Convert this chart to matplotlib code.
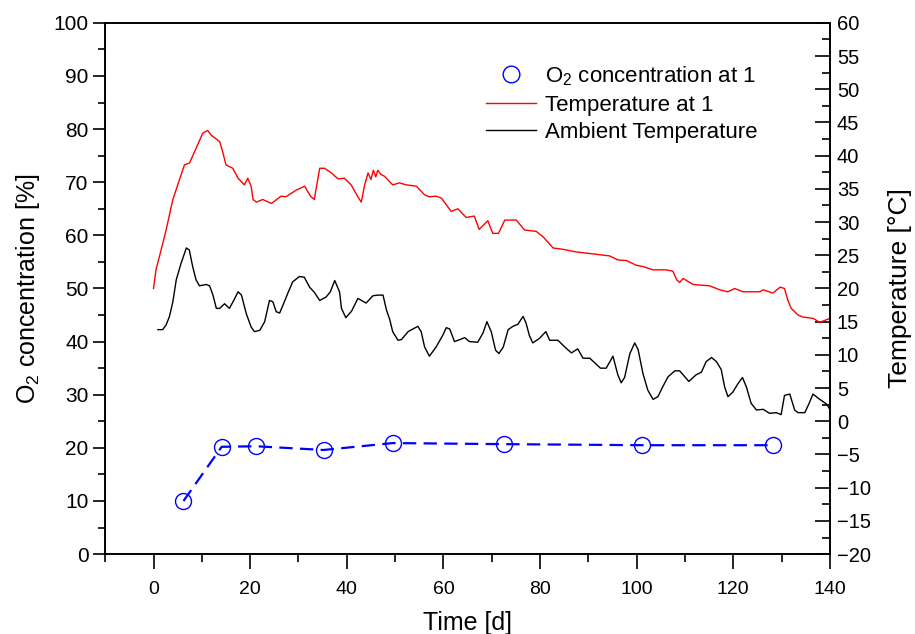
import matplotlib
matplotlib.use("Agg")
import matplotlib.pyplot as plt
from matplotlib.ticker import MultipleLocator
from matplotlib.lines import Line2D

plt.rcParams['font.family'] = ['Liberation Sans', 'DejaVu Sans']
plt.rcParams['mathtext.fontset'] = 'custom'
plt.rcParams['mathtext.rm'] = 'Liberation Sans'
plt.rcParams['mathtext.it'] = 'Liberation Sans:italic'

# O2 concentration at 1 (%)
o2_days = [6.2, 14.1, 21.3, 35.2, 49.5, 72.5, 101.2, 128.2]
o2_vals = [10.0, 20.2, 20.3, 19.6, 20.9, 20.7, 20.5, 20.5]

# Temperature at 1 (deg C)
t1_days = [0, 0.5, 1.5, 2.6, 4.0, 5.7, 6.4, 7.45, 8.8, 10.2, 11.2, 11.9, 13.7, 14.3, 15.0,
           16.4, 17.5, 18.8, 19.5, 20.2, 20.6, 21.3, 22.6, 24.4, 26.4, 27.4, 29.5, 31.3,
           31.9, 32.6, 33.3, 33.6, 34.4, 35.4, 36.8, 38.2, 39.5, 40.9, 42.3, 43.0, 43.7,
           44.4, 45.0, 45.5, 46.0, 46.4, 47.0, 47.8, 49.5, 50.9, 52.3, 54.4, 56.1, 57.1,
           58.5, 59.6, 60.9, 61.6, 63.0, 64.7, 66.4, 67.4, 69.2, 70.2, 71.4, 72.7, 75.1,
           76.8, 79.2, 80.6, 82.7, 84.7, 87.5, 91.0, 94.4, 96.1, 97.9, 99.9, 101.3, 103.4,
           106.1, 107.5, 108.3, 108.9, 109.6, 111.7, 115.1, 117.2, 118.9, 120.3, 122.0,
           125.5, 126.2, 128.2, 129.7, 130.6, 131.3, 132.0, 133.4, 134.4, 136.5, 137.9, 140.0]
t1_vals = [20.0, 22.8, 25.6, 28.8, 33.4, 37.1, 38.6, 38.9, 41.1, 43.4, 43.8, 43.1, 42.1, 40.6,
           38.6, 38.1, 36.6, 35.6, 36.6, 35.4, 33.4, 33.0, 33.4, 32.8, 33.9, 33.8, 34.8, 35.4,
           34.6, 33.8, 33.4, 34.8, 38.1, 38.1, 37.4, 36.5, 36.6, 35.6, 33.8, 33.0, 35.6,
           37.4, 36.4, 37.8, 36.8, 37.8, 37.2, 36.9, 35.6, 35.9, 35.6, 35.4, 34.1, 33.8,
           33.9, 33.6, 32.3, 31.6, 32.0, 30.7, 30.9, 28.9, 30.2, 28.3, 28.3, 30.3, 30.3,
           28.8, 28.6, 27.8, 26.1, 25.9, 25.5, 25.2, 24.9, 24.3, 24.2, 23.5, 23.3, 22.8,
           22.8, 22.6, 21.3, 20.9, 21.5, 20.6, 20.4, 19.8, 19.5, 20.0, 19.5,
           19.5, 19.8, 19.3, 20.2, 20.0, 18.2, 17.0, 16.0, 15.7, 15.5, 14.9, 15.5]

# Ambient temperature (deg C)
amb_days = [0.9, 1.9, 2.6, 3.3, 4.0, 4.7, 5.7, 6.8, 7.4, 8.1, 8.8, 9.5, 10.9, 11.6, 12.3, 13.0,
            13.7, 14.7, 15.7, 16.6, 17.5, 18.2, 19.2, 20.2, 20.9, 22.0, 23.0, 24.0, 24.7, 25.4,
            26.1, 26.8, 27.8, 28.8, 30.2, 31.2, 32.3, 33.3, 34.4, 35.7, 36.6, 37.5, 38.5, 38.9,
            39.8, 41.0, 42.3, 44.0, 45.4, 46.4, 47.5, 48.2, 48.9, 49.5, 50.6, 51.3, 52.7, 54.7,
            55.4, 56.1, 57.1, 58.5, 59.9, 60.6, 61.3, 62.3, 63.4, 64.4, 65.4, 67.1, 68.2, 69.0,
            69.9, 70.8, 71.5, 72.4, 73.4, 74.4, 75.4, 76.5, 77.1, 77.8, 78.5, 79.9, 81.2, 82.0,
            83.7, 85.4, 86.5, 87.8, 88.9, 90.3, 92.5, 93.7, 95.1, 96.1, 96.8, 97.5, 98.6, 99.6,
            100.3, 101.3, 102.3, 103.4, 104.4, 105.4, 106.5, 107.9, 108.9, 110.8, 112.3, 113.4,
            114.4, 115.5, 116.5, 117.5, 118.2, 118.9, 119.9, 121.0, 121.9, 122.7, 123.7, 124.8,
            126.2, 127.5, 128.9, 129.9, 130.6, 131.7, 132.7, 133.4, 134.8, 135.7, 136.5, 137.9,
            139.3, 140.0]
amb_vals = [13.8, 13.8, 14.5, 15.8, 18.0, 21.3, 23.8, 26.1, 25.8, 23.3, 21.3, 20.4, 20.6, 20.4,
            19.0, 17.0, 17.0, 17.7, 17.0, 18.2, 19.5, 19.0, 16.2, 14.2, 13.5, 13.7, 15.0, 18.2,
            18.0, 16.5, 16.3, 17.5, 19.3, 21.0, 21.8, 21.7, 20.2, 19.4, 18.2, 18.7, 19.5, 21.2,
            19.5, 17.0, 15.6, 16.6, 18.5, 17.8, 18.9, 19.0, 19.0, 16.8, 15.3, 13.5, 12.2, 12.3,
            13.5, 14.3, 13.5, 11.2, 9.8, 11.2, 13.0, 14.1, 13.9, 12.0, 12.3, 12.6, 12.0, 11.9,
            13.3, 15.0, 13.5, 10.7, 10.2, 11.2, 13.8, 14.3, 14.6, 15.8, 14.8, 12.9, 11.8, 12.5,
            13.5, 12.2, 12.2, 11.0, 10.3, 10.9, 9.5, 9.5, 8.0, 8.0, 9.8, 7.0, 5.8, 6.6, 10.2,
            11.8, 10.8, 7.2, 4.7, 3.3, 3.7, 5.2, 6.7, 7.6, 7.6, 6.0, 7.0, 7.4, 9.0, 9.6, 9.0,
            7.8, 5.2, 3.7, 4.4, 5.7, 6.6, 5.2, 2.7, 1.7, 1.8, 1.2, 1.3, 1.0, 3.9, 4.1, 1.7,
            1.3, 1.3, 2.7, 4.1, 3.3, 2.6, 1.8]

fig = plt.figure(figsize=(9.15, 6.34), dpi=100)
ax = fig.add_axes([0.115, 0.126, 0.792, 0.838])
ax2 = ax.twinx()

ax.plot(o2_days, o2_vals, color='#0000ff', linestyle=(0, (6, 3.3)), linewidth=1.6,
        marker='o', markersize=11.5, markerfacecolor='none', markeredgecolor='#0000ff',
        markeredgewidth=1.0, zorder=3)
ax2.plot(t1_days, t1_vals, color='#ff0000', linewidth=1.0)
ax2.plot(amb_days, amb_vals, color='black', linewidth=1.0)

ax.set_xlim(-10, 140)
ax.set_ylim(0, 100)
ax2.set_ylim(-20, 60)

ax.xaxis.set_major_locator(MultipleLocator(20))
ax.xaxis.set_minor_locator(MultipleLocator(10))
ax.yaxis.set_major_locator(MultipleLocator(10))
ax.yaxis.set_minor_locator(MultipleLocator(5))
ax2.yaxis.set_major_locator(MultipleLocator(5))
ax2.yaxis.set_minor_locator(MultipleLocator(2.5))

ax.tick_params(axis='x', which='major', direction='out', length=11, width=1.2,
               labelsize=14, pad=8)
ax.tick_params(axis='x', which='minor', direction='out', length=6, width=1.2)
ax.tick_params(axis='y', which='major', direction='out', length=9, width=1.2,
               labelsize=15, pad=3)
ax.tick_params(axis='y', which='minor', direction='out', length=5, width=1.2)
ax.tick_params(top=False, right=False, which='both')
ax2.tick_params(axis='y', which='major', direction='in', length=11, width=1.2,
                labelsize=14.5, pad=5)
ax2.tick_params(axis='y', which='minor', direction='in', length=6, width=1.2)

for sp in ax.spines.values():
    sp.set_linewidth(1.2)
for sp in ax2.spines.values():
    sp.set_linewidth(1.2)

ax.set_xlabel('Time [d]', fontsize=18, labelpad=10)
ax.set_ylabel(r'O$_2$ concentration [%]', fontsize=18, labelpad=8)
ax2.set_ylabel('Temperature [°C]', fontsize=19, labelpad=12)

handles = [
    Line2D([], [], linestyle='none', marker='o', markersize=12, markerfacecolor='none',
           markeredgecolor='#0000ff', markeredgewidth=1.0),
    Line2D([], [], color='#ff0000', linewidth=1.0),
    Line2D([], [], color='black', linewidth=1.0),
]
labels = [r'O$_2$ concentration at 1', 'Temperature at 1', 'Ambient Temperature']
ax2.legend(handles, labels, loc='upper left', bbox_to_anchor=(0.525, 0.922),
           frameon=False, fontsize=16, handlelength=2.25, handletextpad=0.4,
           labelspacing=0.3, borderaxespad=0, borderpad=0)

fig.savefig('out.png', dpi=100)
